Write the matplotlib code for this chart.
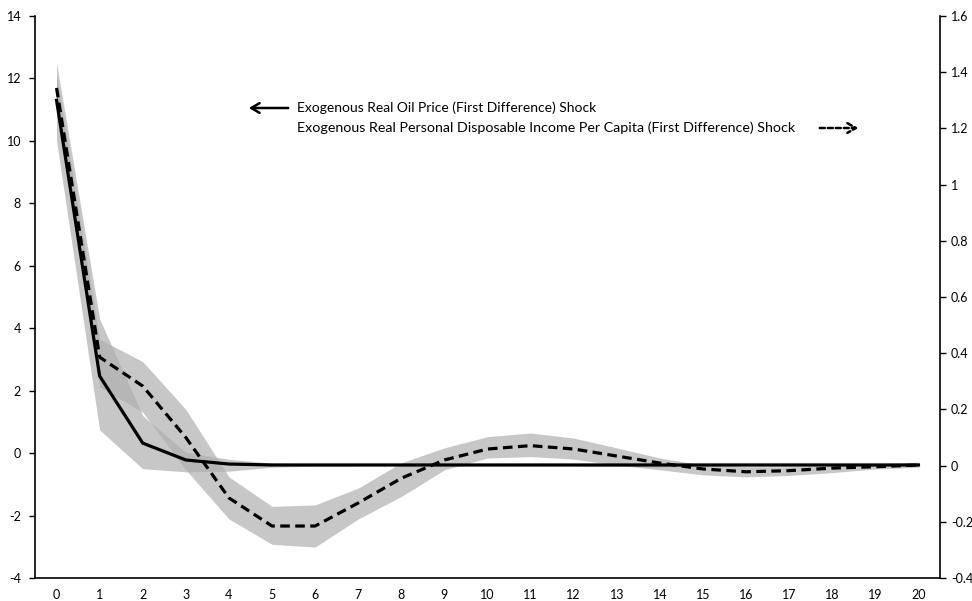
import matplotlib
matplotlib.use("Agg")
import matplotlib.pyplot as plt
import numpy as np

plt.rcParams['font.family'] = ['Lato', 'DejaVu Sans']

periods = list(range(21))
# Oil price shock response (left axis)
oil = [11.3, 2.47, 0.32, -0.22, -0.35, -0.38, -0.38, -0.38, -0.38, -0.38, -0.38,
       -0.38, -0.38, -0.38, -0.38, -0.38, -0.38, -0.38, -0.38, -0.38, -0.38]
oil_upper = [12.5, 4.3, 1.2, 0.03, -0.2, -0.32, -0.34, -0.35, -0.35, -0.35, -0.35,
             -0.35, -0.35, -0.35, -0.35, -0.35, -0.35, -0.35, -0.35, -0.35, -0.35]
oil_lower = [10.0, 0.74, -0.5, -0.6, -0.58, -0.45, -0.42, -0.41, -0.41, -0.41, -0.41,
             -0.41, -0.41, -0.42, -0.45, -0.42, -0.41, -0.41, -0.41, -0.41, -0.41]
# Income shock response (right axis)
income = [1.344, 0.386, 0.283, 0.10, -0.115, -0.215, -0.215, -0.133, -0.045, 0.02, 0.059,
          0.071, 0.059, 0.034, 0.009, -0.012, -0.022, -0.018, -0.009, -0.004, 0.002]
income_upper = [1.39, 0.45, 0.37, 0.20, -0.04, -0.145, -0.14, -0.08, 0.01, 0.063, 0.103,
                0.116, 0.098, 0.063, 0.027, 0.002, -0.004, -0.004, 0.0, 0.006, 0.012]
income_lower = [1.29, 0.28, 0.19, -0.015, -0.19, -0.28, -0.29, -0.19, -0.11, -0.015, 0.027,
                0.032, 0.023, 0.002, -0.015, -0.033, -0.04, -0.035, -0.025, -0.012, -0.006]

left_ticks = list(range(-4, 15, 2))
right_ticks = [-0.4, -0.2, 0, 0.2, 0.4, 0.6, 0.8, 1, 1.2, 1.4, 1.6]
right_labels = ['-0.4', '-0.2', '0', '0.2', '0.4', '0.6', '0.8', '1', '1.2', '1.4', '1.6']

legend_oil = "Exogenous Real Oil Price (First Difference) Shock"
legend_inc = "Exogenous Real Personal Disposable Income Per Capita (First Difference) Shock"

fig = plt.figure(figsize=(9.72, 6.01), dpi=100)
ax = fig.add_axes([35/972, 23/601, 905/972, 562/601])
ax2 = ax.twinx()
ax.set_xlim(-0.5, 20.5)
ax.set_ylim(-4, 14)
ax2.set_ylim(-0.4, 1.6)

band_kw = dict(color='#b0b0b0', alpha=0.7, linewidth=0)
ax.fill_between(periods, oil_lower, oil_upper, **band_kw, zorder=1)
ax.fill_between(periods, income_lower, income_upper, transform=ax2.transData, **band_kw, zorder=1)
ax.plot(periods, oil, color='black', lw=2.3, zorder=3, solid_joinstyle='miter')
ax.plot(periods, income, color='black', lw=2.3, dashes=(3, 1.7), zorder=3,
        transform=ax2.transData)

ax.set_yticks(left_ticks)
ax.set_yticklabels([str(t) for t in left_ticks])
ax2.set_yticks(right_ticks)
ax2.set_yticklabels(right_labels)
ax.set_xticks(periods)
ax.set_xticklabels([str(p) for p in periods])

for a in (ax, ax2):
    a.spines['top'].set_visible(False)
    for s in a.spines.values():
        s.set_linewidth(1.2)
ax.spines['right'].set_visible(False)
ax2.spines['left'].set_visible(False)
ax2.spines['bottom'].set_visible(False)
ax.tick_params(axis='y', labelsize=9, length=4, width=1, pad=6)
ax.tick_params(axis='x', labelsize=9, length=0, pad=8)
ax2.tick_params(axis='y', labelsize=9, length=4, width=1, pad=4)

# legend-like annotation
fig.text(297/972, 1 - 108/601, legend_oil, fontsize=10, va='center', ha='left')
fig.text(297/972, 1 - 128/601, legend_inc, fontsize=10.3, va='center', ha='left')
ann_kw = dict(xycoords='figure pixels', textcoords='figure pixels')
ax.annotate('', xy=(246, 601 - 108), xytext=(291, 601 - 108), **ann_kw,
            arrowprops=dict(arrowstyle='->,head_length=0.6,head_width=0.35', lw=1.8, color='black'))
ax.annotate('', xy=(861, 601 - 128), xytext=(817, 601 - 128), **ann_kw,
            arrowprops=dict(arrowstyle='->,head_length=0.6,head_width=0.35', lw=1.8, color='black',
                            linestyle=(0, (2, 1.2))))

fig.savefig('out.png', dpi=100)
